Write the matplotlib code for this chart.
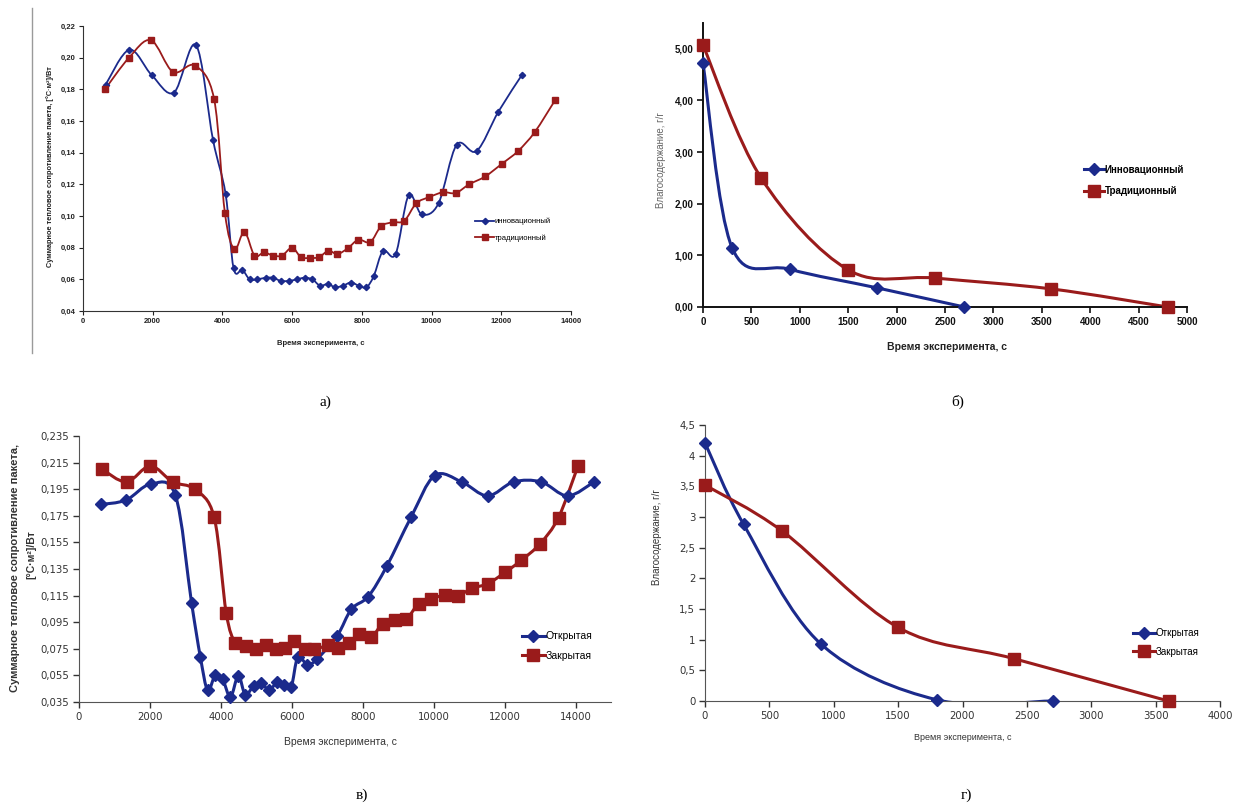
import numpy as np
import matplotlib
matplotlib.use("Agg")
import matplotlib.pyplot as plt
from matplotlib.path import Path
from matplotlib.patches import PathPatch
from matplotlib.lines import Line2D

plt.rcParams['font.family'] = ['Liberation Sans', 'DejaVu Sans']

# ---- а) суммарное тепловое сопротивление, инновационный / традиционный
a_x_innov = [650, 1330, 1970, 2610, 3240, 3730, 4090, 4320, 4570, 4780, 5000, 5240, 5460,
             5670, 5910, 6130, 6360, 6580, 6800, 7020, 7240, 7460, 7690, 7910, 8130,
             8340, 8610, 8970, 9340, 9720, 10200, 10720, 11290, 11920, 12590]
a_y_innov = [0.183, 0.205, 0.189, 0.178, 0.208, 0.148, 0.114, 0.067, 0.066, 0.060, 0.060,
             0.061, 0.061, 0.059, 0.059, 0.060, 0.061, 0.060, 0.056, 0.057, 0.055, 0.056,
             0.058, 0.056, 0.055, 0.062, 0.078, 0.076, 0.113, 0.101, 0.108, 0.145, 0.141,
             0.166, 0.189]
a_x_trad = [630, 1320, 1950, 2580, 3210, 3760, 4070, 4340, 4630, 4920, 5190, 5450, 5710,
            6000, 6250, 6500, 6770, 7040, 7300, 7590, 7900, 8240, 8550, 8880, 9220, 9560,
            9940, 10330, 10690, 11080, 11540, 12020, 12480, 12960, 13540]
a_y_trad = [0.180, 0.200, 0.211, 0.191, 0.195, 0.174, 0.102, 0.079, 0.090, 0.075, 0.077,
            0.075, 0.075, 0.080, 0.074, 0.0735, 0.074, 0.078, 0.076, 0.0795, 0.085, 0.0835,
            0.0935, 0.096, 0.097, 0.108, 0.112, 0.115, 0.1145, 0.120, 0.125, 0.133, 0.141,
            0.153, 0.173]

# ---- б) влагосодержание, инновационный / традиционный
b_x_innov = [0, 300, 900, 1800, 2700]
b_y_innov = [4.72, 1.15, 0.73, 0.37, 0.0]
b_x_trad = [0, 600, 1500, 2400, 3600, 4800]
b_y_trad = [5.07, 2.50, 0.72, 0.56, 0.35, 0.0]

# ---- в) суммарное тепловое сопротивление, открытая / закрытая
c_x_open = [612, 1325, 2020, 2717, 3172, 3422, 3628, 3845, 4047, 4270, 4492, 4689, 4928,
            5140, 5362, 5580, 5772, 5980, 6170, 6440, 6710, 7280, 7680, 8155, 8675, 9360,
            10030, 10790, 11520, 12255, 13030, 13775, 14525]
c_y_open = [0.1835, 0.1868, 0.1988, 0.1905, 0.1098, 0.0688, 0.0438, 0.0555, 0.0523, 0.0388,
            0.0548, 0.0405, 0.0473, 0.0493, 0.0438, 0.0498, 0.048, 0.046, 0.0688, 0.063,
            0.0673, 0.0848, 0.1048, 0.1143, 0.137, 0.1738, 0.2053, 0.2005, 0.19, 0.2005,
            0.2005, 0.19, 0.2005]
c_x_closed = [650, 1340, 2010, 2640, 3260, 3810, 4150, 4410, 4710, 4990, 5280, 5560, 5810,
              6060, 6360, 6640, 7030, 7300, 7600, 7900, 8235, 8560, 8905, 9230, 9580, 9935,
              10320, 10690, 11080, 11530, 12015, 12470, 13000, 13520, 14070]
c_y_closed = [0.210, 0.2005, 0.2125, 0.2005, 0.195, 0.174, 0.102, 0.0795, 0.077, 0.075,
              0.0775, 0.075, 0.0755, 0.0805, 0.0745, 0.0745, 0.0775, 0.0755, 0.079, 0.086,
              0.0835, 0.094, 0.097, 0.0975, 0.109, 0.1125, 0.1155, 0.115, 0.1205, 0.124,
              0.1325, 0.1415, 0.154, 0.1737, 0.2125]

# ---- г) влагосодержание, открытая / закрытая
d_x_open = [0, 300, 900, 1800, 2700]
d_y_open = [4.21, 2.88, 0.93, 0.02, 0.0]
d_x_closed = [0, 600, 1500, 2400, 3600]
d_y_closed = [3.52, 2.77, 1.20, 0.69, 0.0]

a_yticks = [0.04, 0.06, 0.08, 0.10, 0.12, 0.14, 0.16, 0.18, 0.20, 0.22]
a_ylabels = ['0,04', '0,06', '0,08', '0,10', '0,12', '0,14', '0,16', '0,18', '0,20', '0,22']
b_yticks = [0, 1, 2, 3, 4, 5]
b_ylabels = ['0,00', '1,00', '2,00', '3,00', '4,00', '5,00']
c_yticks = [0.035, 0.055, 0.075, 0.095, 0.115, 0.135, 0.155, 0.175, 0.195, 0.215, 0.235]
c_ylabels = ['0,035', '0,055', '0,075', '0,095', '0,115', '0,135', '0,155', '0,175',
             '0,195', '0,215', '0,235']
d_yticks = [0, 0.5, 1, 1.5, 2, 2.5, 3, 3.5, 4, 4.5]
d_ylabels = ['0', '0,5', '1', '1,5', '2', '2,5', '3', '3,5', '4', '4,5']

BLUE = '#1b2a8c'
RED = '#9a1b1b'
W, H = 1237, 811


def smooth_path(x, y):
    # сглаженная линия как в Excel (кубические Безье по соседним точкам)
    pts = np.column_stack([np.asarray(x, float), np.asarray(y, float)])
    n = len(pts)
    verts = [pts[0]]
    codes = [Path.MOVETO]
    for i in range(n - 1):
        p0 = pts[i - 1] if i > 0 else pts[i]
        p3 = pts[i + 2] if i + 2 < n else pts[i + 1]
        c1 = pts[i] + (pts[i + 1] - p0) / 6
        c2 = pts[i + 1] - (p3 - pts[i]) / 6
        verts += [c1, c2, pts[i + 1]]
        codes += [Path.CURVE4] * 3
    return Path(verts, codes)


def series(ax, x, y, color, marker, ms, lw):
    ax.add_patch(PathPatch(smooth_path(x, y), fill=False, edgecolor=color, lw=lw,
                           joinstyle='round', capstyle='round', zorder=2))
    ax.plot(x, y, ls='none', marker=marker, ms=ms, color=color, mec=color,
            clip_on=False, zorder=3)
    return Line2D([], [], color=color, lw=lw, marker=marker, ms=ms)


def make_axes(left, right, top, bottom):
    ax = fig.add_axes([left / W, 1 - bottom / H, (right - left) / W, (bottom - top) / H])
    ax.spines['top'].set_visible(False)
    ax.spines['right'].set_visible(False)
    return ax


fig = plt.figure(figsize=(W / 100, H / 100), dpi=100)

# ---------------- а)
ax = make_axes(83, 571, 26, 311)
h1 = series(ax, a_x_innov, a_y_innov, BLUE, 'D', 3.2, 1.3)
h2 = series(ax, a_x_trad, a_y_trad, RED, 's', 5, 1.3)
ax.set_xlim(0, 14000)
ax.set_ylim(0.04, 0.22)
ax.set_xticks(range(0, 14001, 2000))
ax.set_yticks(a_yticks)
ax.set_yticklabels(a_ylabels)
for s in ax.spines.values():
    s.set_color('#333333')
ax.tick_params(direction='out', length=3, width=0.8, labelsize=5.5, colors='#222222', pad=2)
for t in ax.get_xticklabels() + ax.get_yticklabels():
    t.set_fontweight('bold')
ax.legend([h1, h2], ['инновационный', 'традиционный'], loc='center left',
          bbox_to_anchor=(0.79, 0.285), frameon=False, fontsize=5.5, handlelength=2.4,
          handletextpad=0.1, labelspacing=1.2)
fig.text(321 / W, 1 - 343 / H, 'Время эксперимента, с', ha='center', va='center',
         fontsize=5.5, fontweight='bold', color='#222222')
fig.text(50 / W, 1 - 167 / H, 'Суммарное тепловое сопротивление пакета, [°С·м²]/Вт',
         rotation=90, ha='center', va='center', fontsize=5.3, fontweight='bold',
         color='#222222')
fig.add_artist(Line2D([32 / W, 32 / W], [1 - 8 / H, 1 - 353 / H], color='#9a9a9a', lw=1))

# ---------------- б)
ax = make_axes(703, 1187, 23, 307)
h1 = series(ax, b_x_innov, b_y_innov, BLUE, 'D', 6.5, 2.2)
h2 = series(ax, b_x_trad, b_y_trad, RED, 's', 8.5, 2.2)
ax.set_xlim(0, 5000)
ax.set_ylim(0, 5.5)
ax.set_xticks(range(0, 5001, 500))
ax.set_yticks(b_yticks)
ax.set_yticklabels(b_ylabels)
for s in ax.spines.values():
    s.set_color('#111111')
    s.set_linewidth(1.4)
ax.tick_params(direction='out', length=4, width=1.2, labelsize=7, colors='#111111', pad=3)
for t in ax.get_xticklabels() + ax.get_yticklabels():
    t.set_fontweight('bold')
ax.legend([h1, h2], ['Инновационный', 'Традиционный'], loc='center left',
          bbox_to_anchor=(0.77, 0.445), frameon=False, handlelength=2.0,
          handletextpad=0.1, labelspacing=1.2, prop={'weight': 'bold', 'size': 7})
fig.text(947 / W, 1 - 347 / H, 'Время эксперимента, с', ha='center', va='center',
         fontsize=7.5, fontweight='bold', color='#222222')
fig.text(661 / W, 1 - 160 / H, 'Влагосодержание, г/г', rotation=90, ha='center',
         va='center', fontsize=7, color='#666666')

# ---------------- в)
ax = make_axes(79, 611, 436, 702)
h1 = series(ax, c_x_open, c_y_open, BLUE, 'D', 6.5, 2.2)
h2 = series(ax, c_x_closed, c_y_closed, RED, 's', 8.5, 2.2)
ax.set_xlim(0, 15000)
ax.set_ylim(0.035, 0.235)
ax.set_xticks(range(0, 14001, 2000))
ax.set_yticks(c_yticks)
ax.set_yticklabels(c_ylabels)
for s in ax.spines.values():
    s.set_color('#555555')
ax.tick_params(direction='out', length=4, width=1, labelsize=7.3, colors='#333333', pad=3)
for t in ax.get_xticklabels() + ax.get_yticklabels():
    t.set_family(['DejaVu Sans'])
ax.legend([h1, h2], ['Открытая', 'Закрытая'], loc='center left',
          bbox_to_anchor=(0.815, 0.21), frameon=False, fontsize=7.5, handlelength=2.2,
          handletextpad=0.1, labelspacing=0.9)
fig.text(340 / W, 1 - 742 / H, 'Время эксперимента, с', ha='center', va='center',
         fontsize=7.5, color='#333333')
fig.text(15 / W, 1 - 568 / H, 'Суммарное тепловое сопротивление пакета,', rotation=90,
         ha='center', va='center', fontsize=8, fontweight='bold', color='#333333')
fig.text(31 / W, 1 - 555 / H, '[°С·м²]/Вт', rotation=90, ha='center', va='center',
         fontsize=7.5, fontweight='bold', color='#333333')

# ---------------- г)
ax = make_axes(705, 1220, 425, 701)
h1 = series(ax, d_x_open, d_y_open, BLUE, 'D', 6.5, 2.2)
h2 = series(ax, d_x_closed, d_y_closed, RED, 's', 8.5, 2.2)
ax.set_xlim(0, 4000)
ax.set_ylim(0, 4.5)
ax.set_xticks(range(0, 4001, 500))
ax.set_yticks(d_yticks)
ax.set_yticklabels(d_ylabels)
for s in ax.spines.values():
    s.set_color('#555555')
ax.tick_params(direction='out', length=4, width=1, labelsize=7.3, colors='#333333', pad=3)
for t in ax.get_xticklabels() + ax.get_yticklabels():
    t.set_family(['DejaVu Sans'])
ax.legend([h1, h2], ['Открытая', 'Закрытая'], loc='center left',
          bbox_to_anchor=(0.815, 0.212), frameon=False, fontsize=7, handlelength=2.2,
          handletextpad=0.1, labelspacing=0.9)
fig.text(963 / W, 1 - 738 / H, 'Время эксперимента, с', ha='center', va='center',
         fontsize=6.5, color='#333333')
fig.text(657 / W, 1 - 537 / H, 'Влагосодержание, г/г', rotation=90, ha='center',
         va='center', fontsize=7, color='#333333')

# подписи панелей
for px, py, lab in [(325, 402, 'а)'), (958, 402, 'б)'), (362, 795, 'в)'), (966, 795, 'г)')]:
    fig.text(px / W, 1 - py / H, lab, ha='center', va='center', fontsize=11,
             family=['Liberation Serif', 'DejaVu Serif'])

fig.savefig('out.png', dpi=100, facecolor='white')
